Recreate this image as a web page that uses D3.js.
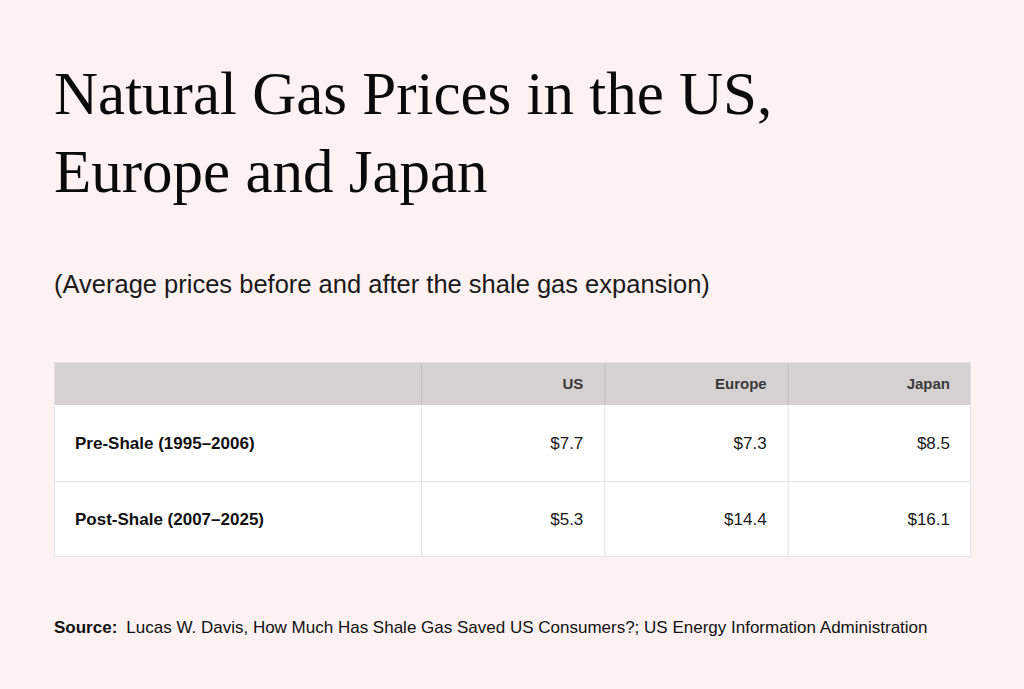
<!DOCTYPE html>
<html>
<head>
<meta charset="utf-8">
<script src="https://cdn.jsdelivr.net/npm/d3@7"></script>
<style>
  html, body { margin: 0; padding: 0; background: #fdf1f1; }
  svg { display: block; }
</style>
</head>
<body>
<svg id="chart"></svg>
<script>
// table data
const columns = ['US', 'Europe', 'Japan']
const periods = ['Pre-Shale (1995–2006)', 'Post-Shale (2007–2025)']
const usPrices = [7.7, 5.3]
const europePrices = [7.3, 14.4]
const japanPrices = [8.5, 16.1]

const titleLines = ['Natural Gas Prices in the US,', 'Europe and Japan']
const subtitle = '(Average prices before and after the shale gas expansion)'
const sourceLabel = 'Source:'
const sourceText = 'Lucas W. Davis, How Much Has Shale Gas Saved US Consumers?; US Energy Information Administration'

const width = 1024
const height = 689
const sans = "'Liberation Sans', Arial, Helvetica, sans-serif"

const tableLeft = 54
const tableRight = 971
const labelColWidth = 367
const headerTop = 362
const headerH = 43
const rowH = 76
const pad = 21

const chart = d3.select('#chart')
    .attr('width', width)
    .attr('height', height)

chart.append('rect')
    .attr('width', width).attr('height', height)
    .attr('fill', '#fdf1f1')

// title
chart.append('g').selectAll('text')
    .data(titleLines)
    .join('text')
    .attr('x', 54)
    .attr('y', (d, i) => 114 + i * 78)
    .attr('font-family', "'Liberation Serif', 'Times New Roman', serif")
    .attr('font-size', 61)
    .attr('fill', '#0a0a0a')
    .text(d => d)

chart.append('text')
    .attr('x', 54).attr('y', 293)
    .attr('font-family', sans)
    .attr('font-size', 25.5)
    .attr('fill', '#1a1a1a')
    .text(subtitle)

// scales
const values = periods.map((p, i) => [usPrices[i], europePrices[i], japanPrices[i]])
const xCol = d3.scaleBand()
    .domain(columns)
    .range([tableLeft + labelColWidth, tableRight])
const yRow = d3.scaleBand()
    .domain(periods)
    .range([headerTop + headerH, headerTop + headerH + rowH * periods.length])
const fmt = d => '$' + d3.format('.1f')(d)

const table = chart.append('g')

// header
table.append('rect')
    .attr('x', tableLeft).attr('y', headerTop)
    .attr('width', tableRight - tableLeft).attr('height', headerH)
    .attr('fill', '#d6d1d1')

// body
table.append('rect')
    .attr('x', tableLeft).attr('y', yRow.range()[0])
    .attr('width', tableRight - tableLeft).attr('height', yRow.range()[1] - yRow.range()[0])
    .attr('fill', '#ffffff')

// row lines
table.selectAll('line.row')
    .data(periods.slice(1))
    .join('line')
    .attr('class', 'row')
    .attr('x1', tableLeft).attr('x2', tableRight)
    .attr('y1', d => yRow(d) + 0.5).attr('y2', d => yRow(d) + 0.5)
    .attr('stroke', '#e4e0e0')

// column lines in header (darker) and body (lighter)
table.selectAll('line.colh')
    .data(columns)
    .join('line')
    .attr('class', 'colh')
    .attr('x1', d => xCol(d) + 0.5).attr('x2', d => xCol(d) + 0.5)
    .attr('y1', headerTop).attr('y2', headerTop + headerH)
    .attr('stroke', '#c3bdbd')

table.selectAll('line.colb')
    .data(columns)
    .join('line')
    .attr('class', 'colb')
    .attr('x1', d => xCol(d) + 0.5).attr('x2', d => xCol(d) + 0.5)
    .attr('y1', headerTop + headerH).attr('y2', yRow.range()[1])
    .attr('stroke', '#e4e0e0')

// outer border
table.append('rect')
    .attr('x', tableLeft + 0.5).attr('y', headerTop + 0.5)
    .attr('width', tableRight - tableLeft - 1)
    .attr('height', yRow.range()[1] - headerTop - 1)
    .attr('fill', 'none')
    .attr('stroke', '#e6e2e2')

// header texts
table.selectAll('text.head')
    .data(columns)
    .join('text')
    .attr('class', 'head')
    .attr('x', d => xCol(d) + xCol.bandwidth() - pad)
    .attr('y', headerTop + 27)
    .attr('text-anchor', 'end')
    .attr('font-family', sans)
    .attr('font-size', 15)
    .attr('font-weight', 'bold')
    .attr('fill', '#3a3a3a')
    .text(d => d)

// row labels
table.selectAll('text.label')
    .data(periods)
    .join('text')
    .attr('class', 'label')
    .attr('x', tableLeft + pad)
    .attr('y', d => yRow(d) + yRow.bandwidth() / 2 + 6)
    .attr('font-family', sans)
    .attr('font-size', 17)
    .attr('font-weight', 'bold')
    .attr('fill', '#111')
    .text(d => d)

// values
periods.forEach((p, i) => {
    table.selectAll('text.v' + i)
        .data(values[i])
        .join('text')
        .attr('class', 'v' + i)
        .attr('x', (d, j) => xCol(columns[j]) + xCol.bandwidth() - pad)
        .attr('y', yRow(p) + yRow.bandwidth() / 2 + 6)
        .attr('text-anchor', 'end')
        .attr('font-family', sans)
        .attr('font-size', 17)
        .attr('fill', '#1a1a1a')
        .text(fmt)
})

// source
const src = chart.append('text')
    .attr('x', 54).attr('y', 633)
    .attr('font-family', sans)
    .attr('font-size', 17)
    .attr('fill', '#111')
src.append('tspan').attr('font-weight', 'bold').text(sourceLabel)
src.append('tspan').attr('dx', 9).text(sourceText)
</script>
</body>
</html>
